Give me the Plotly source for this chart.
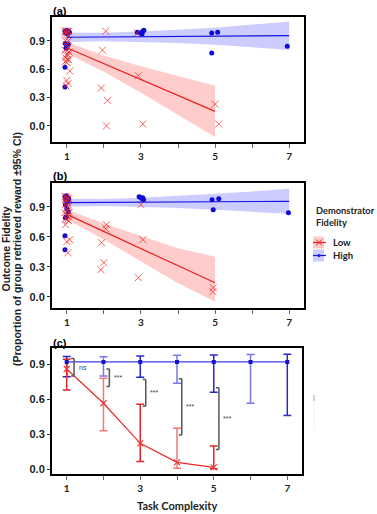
import plotly.graph_objects as go

W, H = 377, 514
def px(x): return x / W
def py(y): return 1 - y / H

# ---------------- DATA ----------------
# Panel (a)
a_low_x = [0.95,0.98,1.02,1.05,0.97,1.0,1.03,0.96,1.04,0.99,1.02,0.95,1.06,0.98,1.03,0.97,1.01,1.05,0.96,1.0,1.08,1.0,1.03,0.98,
           1.96,2.05,1.93,2.1,2.07, 2.93,3.05,2.9, 5.0,5.1]
a_low_y = [1.0,1.0,1.0,1.0,0.98,0.97,0.95,0.9,0.9,0.86,0.83,0.8,0.78,0.75,0.75,0.72,0.7,0.7,0.68,0.67,0.58,0.48,0.45,0.42,
           0.8,1.0,0.4,0.27,0.0, 0.53,0.02,0.98, 0.23,0.02]
a_high_x = [0.95,0.98,1.0,1.03,1.05,1.07,0.97,1.02,0.96,1.0,1.04,0.98,0.95,0.95, 2.9,3.0,3.05,3.08,3.03, 4.91,5.07,4.91, 6.95]
a_high_y = [1.0,1.0,1.01,1.0,1.0,0.99,0.98,0.97,0.87,0.85,0.86,0.82,0.62,0.41, 0.99,0.98,1.0,1.01,0.97, 0.98,0.99,0.77, 0.84]
a_low_fit_x = [1, 2, 3, 4, 5]
a_low_fit = [0.826, 0.658, 0.49, 0.322, 0.154]
a_low_hi = [0.886, 0.743, 0.63, 0.527, 0.424]
a_low_lo = [0.766, 0.573, 0.35, 0.117, -0.116]
a_high_fit_x = [1, 2, 3, 4, 5, 6, 7]
a_high_fit = [0.936, 0.939, 0.942, 0.945, 0.947, 0.950, 0.953]
a_high_hi = [0.986, 0.984, 0.997, 1.015, 1.037, 1.070, 1.103]
a_high_lo = [0.886, 0.894, 0.887, 0.875, 0.857, 0.830, 0.803]

# Panel (b)
b_low_x = [0.95,0.98,1.02,1.05,0.97,1.0,1.03,0.96,1.04,0.99,1.02,0.95,1.06,0.98,1.03,0.97,1.01,1.05,0.96,1.08,1.0,1.03,
           2.07,2.05,1.94,2.0,1.92, 3.0,3.05,2.93, 4.95,4.94]
b_low_y = [1.0,1.0,0.99,0.98,0.97,0.95,0.93,0.92,0.9,0.88,0.86,0.84,0.84,0.82,0.8,0.78,0.77,0.76,0.72,0.57,0.55,0.44,
           0.72,0.68,0.54,0.34,0.27, 0.92,0.57,0.19, 0.09,0.05]
b_high_x = [0.95,0.98,1.0,1.03,1.05,0.97,1.02,0.96,1.0,1.04,0.98,0.96,0.95,0.95, 2.95,3.0,3.03,3.07,3.05, 4.92,5.1,4.95, 6.98]
b_high_y = [1.0,1.01,0.99,0.99,0.98,0.97,0.95,0.92,0.88,0.85,0.8,0.79,0.61,0.47, 1.0,0.99,0.98,0.97,0.99, 0.97,0.98,0.87, 0.84]
b_low_fit_x = [1, 2, 3, 4, 5]
b_low_fit = [0.823, 0.652, 0.481, 0.31, 0.139]
b_low_hi = [0.873, 0.732, 0.606, 0.485, 0.4]
b_low_lo = [0.773, 0.572, 0.356, 0.135, -0.05]
b_high_fit_x = [1, 2, 3, 4, 5, 6, 7]
b_high_fit = [0.940, 0.942, 0.945, 0.947, 0.949, 0.952, 0.954]
b_high_hi = [0.980, 0.977, 0.990, 1.007, 1.029, 1.052, 1.079]
b_high_lo = [0.900, 0.907, 0.900, 0.887, 0.869, 0.852, 0.829]

# Panel (c)
c_high_x = [1, 2, 3, 4, 5, 6, 7]
c_high_mean = [0.92, 0.92, 0.92, 0.92, 0.92, 0.92, 0.92]
c_high_up = [0.967, 0.965, 0.971, 0.977, 0.980, 0.984, 0.987]
c_high_lo = [0.794, 0.800, 0.788, 0.737, 0.660, 0.566, 0.462]
c_low_x = [1, 2, 3, 4, 5]
c_low_mean = [0.86, 0.566, 0.223, 0.06, 0.017]
c_low_up = [0.943, 0.78, 0.557, 0.351, 0.20]
c_low_lo = [0.68, 0.33, 0.068, 0.009, 0.004]
# significance brackets: x, top, bottom, label
br_x = [1.2, 2.16, 3.15, 4.13, 5.14]
br_top = [0.95, 0.86, 0.77, 0.776, 0.70]
br_bot = [0.80, 0.71, 0.54, 0.294, 0.17]
br_lab = ["ns", "***", "***", "***", "***"]

xticks = [1, 2, 3, 4, 5, 6, 7]
xticktext = ["1", "", "3", "", "5", "", "7"]
yticks = [0.0, 0.3, 0.6, 0.9]
yticktext = ["0.0", "0.3", "0.6", "0.9"]

# ---------------- STYLE ----------------
RED = "rgb(235,30,30)"
BLUE = "rgb(20,20,225)"
RED_FILL = "rgba(255,0,0,0.2)"
BLUE_FILL = "rgba(0,0,255,0.2)"
ARIAL = "Liberation Sans"
CAL = "Lato"

fig = go.Figure()

def band(xs, hi, lo, fill, xa, ya):
    fig.add_trace(go.Scatter(x=list(xs) + list(xs)[::-1], y=list(hi) + list(lo)[::-1],
                             fill="toself", fillcolor=fill, line=dict(width=0),
                             mode="lines", hoverinfo="skip", showlegend=False, xaxis=xa, yaxis=ya))

def pts_low(xs, ys, xa, ya):
    fig.add_trace(go.Scatter(x=xs, y=ys, mode="markers", showlegend=False, xaxis=xa, yaxis=ya,
                             marker=dict(symbol="x-thin", size=7, line=dict(width=1, color="rgba(240,30,30,0.7)"))))

def pts_high(xs, ys, xa, ya):
    fig.add_trace(go.Scatter(x=xs, y=ys, mode="markers", showlegend=False, xaxis=xa, yaxis=ya,
                             marker=dict(symbol="circle", size=5, color="rgb(10,10,220)")))

def fitline(xs, ys, color, xa, ya):
    fig.add_trace(go.Scatter(x=xs, y=ys, mode="lines", showlegend=False, xaxis=xa, yaxis=ya,
                             line=dict(color=color, width=1.2)))

for (xa, ya, lx, ly, hx, hy, lfx, lf, lhi, llo, hfx, hf, hhi, hlo) in [
    ("x", "y", a_low_x, a_low_y, a_high_x, a_high_y, a_low_fit_x, a_low_fit, a_low_hi, a_low_lo,
     a_high_fit_x, a_high_fit, a_high_hi, a_high_lo),
    ("x2", "y2", b_low_x, b_low_y, b_high_x, b_high_y, b_low_fit_x, b_low_fit, b_low_hi, b_low_lo,
     b_high_fit_x, b_high_fit, b_high_hi, b_high_lo)]:
    band(hfx, hhi, hlo, BLUE_FILL, xa, ya)
    band(lfx, lhi, llo, RED_FILL, xa, ya)
    pts_high(hx, hy, xa, ya)
    pts_low(lx, ly, xa, ya)
    fitline(lfx, lf, RED, xa, ya)
    fitline(hfx, hf, BLUE, xa, ya)

# Panel (c) error bars (odd / even x slightly different shading)
def ebars(xs, mean, up, lo, color, idx):
    sx = [xs[i] for i in idx]
    sm = [mean[i] for i in idx]
    eu = [up[i] - mean[i] for i in idx]
    el = [mean[i] - lo[i] for i in idx]
    fig.add_trace(go.Scatter(x=sx, y=sm, mode="markers", marker=dict(size=1, opacity=0),
                             error_y=dict(type="data", symmetric=False, array=eu, arrayminus=el,
                                          color=color, thickness=1.5, width=4),
                             showlegend=False, xaxis="x3", yaxis="y3", hoverinfo="skip"))

ebars(c_high_x, c_high_mean, c_high_up, c_high_lo, "rgb(40,40,210)", [0, 2, 4, 6])
ebars(c_high_x, c_high_mean, c_high_up, c_high_lo, "rgb(120,120,235)", [1, 3, 5])
ebars(c_low_x, c_low_mean, c_low_up, c_low_lo, "rgb(225,40,40)", [0, 2, 4])
ebars(c_low_x, c_low_mean, c_low_up, c_low_lo, "rgb(240,120,120)", [1, 3])

fig.add_trace(go.Scatter(x=c_high_x, y=c_high_mean, mode="lines+markers", showlegend=False,
                         xaxis="x3", yaxis="y3", line=dict(color="rgb(60,60,230)", width=1.2),
                         marker=dict(symbol="square", size=4, color="rgb(20,20,200)")))
fig.add_trace(go.Scatter(x=c_low_x, y=c_low_mean, mode="lines+markers", showlegend=False,
                         xaxis="x3", yaxis="y3", line=dict(color="rgb(235,40,40)", width=1.2),
                         marker=dict(symbol="x-thin", size=6, line=dict(width=1.2, color="rgb(235,60,60)"))))

shapes = []
annotations = []
for bx, bt, bb, bl in zip(br_x, br_top, br_bot, br_lab):
    for (x0, y0, x1, y1) in [(bx, bt, bx, bb), (bx - 0.08, bt, bx, bt), (bx - 0.08, bb, bx, bb)]:
        shapes.append(dict(type="line", xref="x3", yref="y3", x0=x0, y0=y0, x1=x1, y1=y1,
                           line=dict(color="#555555", width=1.5)))
    annotations.append(dict(xref="x3", yref="y3", x=bx + 0.07, y=(bt + bb) / 2, text=bl,
                            showarrow=False, xanchor="left", yanchor="middle",
                            font=dict(family=ARIAL, size=7, color="#444444")))

# ---------------- AXES ----------------
def xaxis_cfg(dom, anchor):
    return dict(domain=dom, anchor=anchor, range=[0.6, 7.4], tickvals=xticks, ticktext=xticktext,
                ticks="outside", ticklen=4, tickcolor="#666", tickwidth=1,
                showline=True, linecolor="black", linewidth=2, mirror=True, showgrid=False, zeroline=False,
                tickfont=dict(family=CAL, size=10, color="#222", weight="bold"))

def yaxis_cfg(dom, anchor, rng):
    return dict(domain=dom, anchor=anchor, range=rng, tickvals=yticks, ticktext=yticktext,
                ticks="outside", ticklen=3, tickcolor="#333", tickwidth=1,
                showline=True, linecolor="black", linewidth=2, mirror=True, showgrid=False, zeroline=False,
                tickfont=dict(family=ARIAL, size=11, color="#222", weight="bold"))

fig.update_layout(
    width=W, height=H, margin=dict(l=0, r=0, t=0, b=0),
    plot_bgcolor="white", paper_bgcolor="white",
    xaxis=xaxis_cfg([px(52), px(304)], "y"),
    yaxis=yaxis_cfg([py(141.7), py(16.7)], "x", [-0.166, 1.153]),
    xaxis2=xaxis_cfg([px(52), px(304)], "y2"),
    yaxis2=yaxis_cfg([py(307.7), py(182.7)], "x2", [-0.11, 1.14]),
    xaxis3=xaxis_cfg([px(52), px(302)], "y3"),
    yaxis3=yaxis_cfg([py(474), py(348.3)], "x3", [-0.04, 1.037]),
)

# panel labels
for lab, yy in [("(a)", 11), ("(b)", 176), ("(c)", 342.5)]:
    annotations.append(dict(xref="paper", yref="paper", x=px(51), y=py(yy), text=lab, showarrow=False,
                            xanchor="left", yanchor="middle",
                            font=dict(family=ARIAL, size=11, color="black", weight="bold")))

# y title (two lines)
annotations.append(dict(xref="paper", yref="paper", x=px(5.5), y=py(249), text="Outcome Fidelity",
                        textangle=-90, showarrow=False, xanchor="center", yanchor="middle",
                        font=dict(family=ARIAL, size=10.5, color="#222", weight="bold")))
annotations.append(dict(xref="paper", yref="paper", x=px(17), y=py(249),
                        text="(Proportion of group retrieved reward ±95% CI)",
                        textangle=-90, showarrow=False, xanchor="center", yanchor="middle",
                        font=dict(family=ARIAL, size=10.5, color="#222", weight="bold")))
# x title
annotations.append(dict(xref="paper", yref="paper", x=px(177), y=py(505.5), text="Task Complexity",
                        showarrow=False, xanchor="center", yanchor="middle",
                        font=dict(family=CAL, size=11, color="#222", weight="bold")))

# legend (drawn manually)
annotations.append(dict(xref="paper", yref="paper", x=px(314), y=py(210.5), text="Demonstrator",
                        showarrow=False, xanchor="left", yanchor="middle",
                        font=dict(family=CAL, size=9.3, color="#222", weight="bold")))
annotations.append(dict(xref="paper", yref="paper", x=px(314), y=py(222.5), text="Fidelity",
                        showarrow=False, xanchor="left", yanchor="middle",
                        font=dict(family=CAL, size=9.3, color="#222", weight="bold")))
for lab, yc, fill, col in [("Low", 242.5, RED_FILL, RED), ("High", 255.5, BLUE_FILL, BLUE)]:
    shapes.append(dict(type="rect", xref="paper", yref="paper", x0=px(313), x1=px(324),
                       y0=py(yc - 6), y1=py(yc + 6), fillcolor=fill, line=dict(width=0)))
    shapes.append(dict(type="line", xref="paper", yref="paper", x0=px(313), x1=px(326),
                       y0=py(yc), y1=py(yc), line=dict(color=col, width=1.2)))
    annotations.append(dict(xref="paper", yref="paper", x=px(331), y=py(yc), text=lab,
                            showarrow=False, xanchor="left", yanchor="middle",
                            font=dict(family=CAL, size=9.5, color="#222", weight="bold")))
# legend glyphs
shapes.append(dict(type="line", xref="paper", yref="paper", x0=px(316), x1=px(322),
                   y0=py(239.5), y1=py(245.5), line=dict(color=RED, width=1)))
shapes.append(dict(type="line", xref="paper", yref="paper", x0=px(316), x1=px(322),
                   y0=py(245.5), y1=py(239.5), line=dict(color=RED, width=1)))
shapes.append(dict(type="circle", xref="paper", yref="paper", x0=px(317.5), x1=px(320.5),
                   y0=py(257), y1=py(254), fillcolor=BLUE, line=dict(width=0)))
# small gray artifact
shapes.append(dict(type="line", xref="paper", yref="paper", x0=px(314), x1=px(314),
                   y0=py(395), y1=py(401), line=dict(color="#aaaaaa", width=1)))
shapes.append(dict(type="line", xref="paper", yref="paper", x0=px(314), x1=px(314),
                   y0=py(401), y1=py(430), line=dict(color="#f2f2f2", width=1)))

fig.update_layout(shapes=shapes, annotations=annotations)
fig.write_html("out.html")
